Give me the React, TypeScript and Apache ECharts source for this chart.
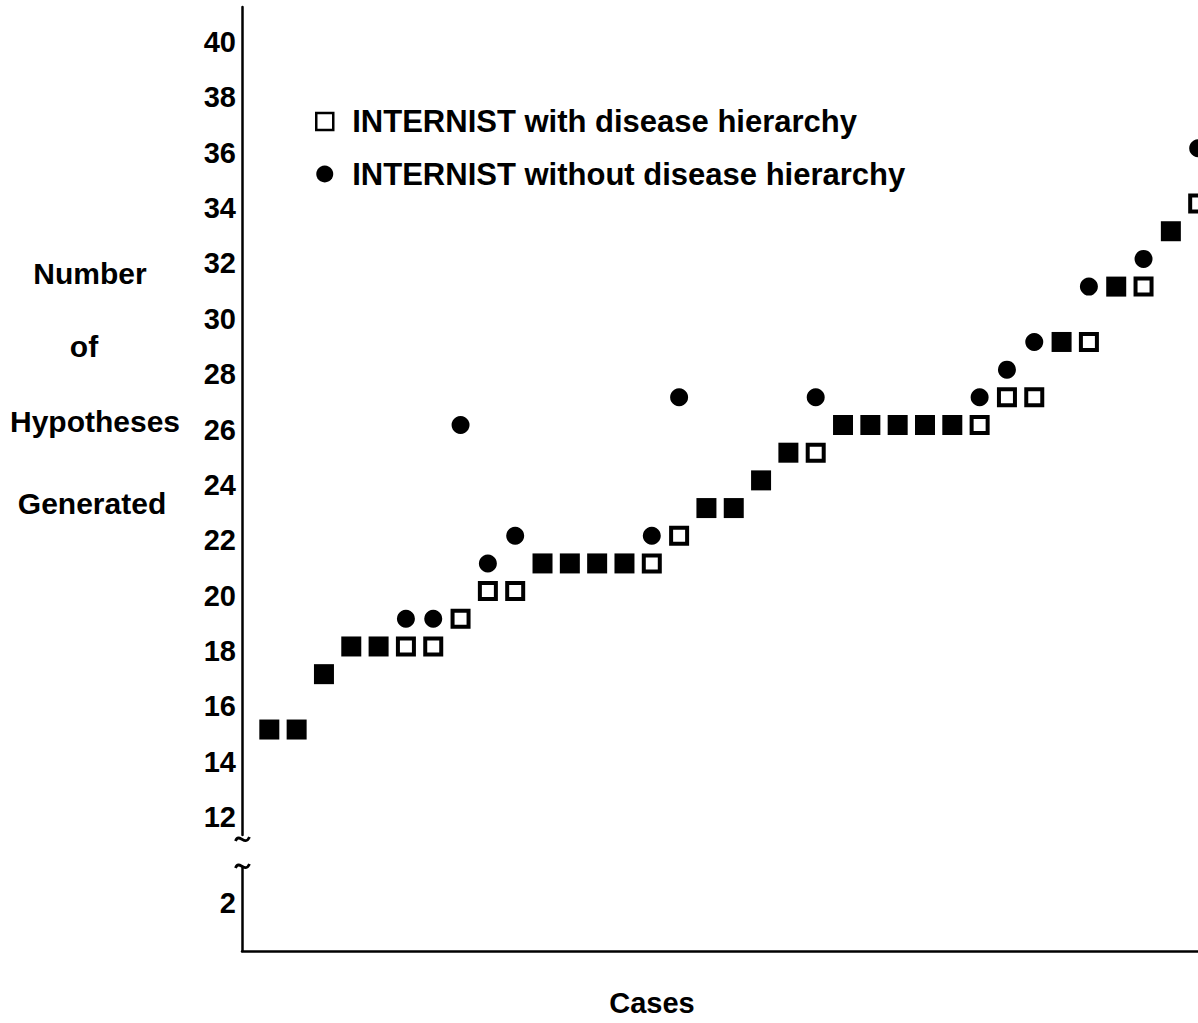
import React, { useEffect, useRef } from "react";
import * as echarts from "echarts";

// ---- data ----
const caseNumbers = [
  1, 2, 3, 4, 5, 6, 7, 8, 9, 10, 11, 12, 13, 14, 15, 16, 17, 18, 19, 20,
  21, 22, 23, 24, 25, 26, 27, 28, 29, 30, 31, 32, 33, 34, 35,
];
const withHierarchy = [
  15, 15, 17, 18, 18, 18, 18, 19, 20, 20, 21, 21, 21, 21, 21, 22, 23, 23, 24, 25,
  25, 26, 26, 26, 26, 26, 26, 27, 27, 29, 29, 31, 31, 33, 34,
];
const withoutHierarchy = [
  15, 15, 17, 18, 18, 19, 19, 26, 21, 22, 21, 21, 21, 21, 22, 27, 23, 23, 24, 25,
  27, 26, 26, 26, 26, 26, 27, 28, 29, 29, 31, 31, 32, 33, 36,
];
const upperTickLabels = [12, 14, 16, 18, 20, 22, 24, 26, 28, 30, 32, 34, 36, 38, 40];
const lowerTickLabels = [2];
const seriesNames = [
  "INTERNIST with disease hierarchy",
  "INTERNIST without disease hierarchy",
];
const yTitleLines = ["Number", "of", "Hypotheses", "Generated"];
const xTitle = "Cases";

const FONT = '"Liberation Sans", Arial, Helvetica, sans-serif';
const INK = "#000";

export default function App() {
  const ref = useRef<HTMLDivElement>(null);

  useEffect(() => {
    if (!ref.current) return;
    const chart = echarts.init(ref.current, undefined, { renderer: "svg" });

    const squareData = caseNumbers.map((c, i) => {
      const both = withHierarchy[i] === withoutHierarchy[i];
      return both
        ? {
            value: [c, withHierarchy[i]],
            symbolSize: 20,
            itemStyle: { color: INK, borderWidth: 0 },
          }
        : { value: [c, withHierarchy[i]] };
    });
    const circleData = caseNumbers
      .map((c, i) => ({ c, w: withHierarchy[i], wo: withoutHierarchy[i] }))
      .filter((d) => d.w !== d.wo)
      .map((d) => [d.c, d.wo]);

    const labelStyle = {
      fontFamily: FONT,
      fontSize: 29,
      fontWeight: "bold" as const,
      color: INK,
      verticalAlign: "top" as const,
      lineHeight: 9,
    };

    const titleX = [90, 84, 95, 92];
    const titleY = [273, 346, 421, 503];

    const textStyle = (size: number) => ({
      fill: INK,
      font: `bold ${size}px ${FONT}`,
      align: "center",
      verticalAlign: "middle",
      textAlign: "center",
      textVerticalAlign: "middle",
    });

    // axis-break squiggle (decorative "~" drawn as a curve)
    const squiggle = (cy: number) => ({
      type: "bezierCurve",
      shape: {
        x1: 235.5,
        y1: cy + 2,
        cpx1: 239,
        cpy1: cy - 7,
        cpx2: 245,
        cpy2: cy + 8,
        x2: 249.5,
        y2: cy - 2,
      },
      style: { stroke: INK, lineWidth: 2.8, fill: null },
    });

    const option: any = {
      animation: false,
      backgroundColor: "#fff",
      grid: [
        { left: 242, top: 7, width: 983.5, height: 828, containLabel: false, outerBoundsMode: "none" },
        { left: 242, top: 867, width: 983.5, height: 84, containLabel: false, outerBoundsMode: "none" },
      ],
      xAxis: [
        {
          type: "value",
          gridIndex: 0,
          min: 0,
          max: 36,
          show: false,
          splitLine: { show: false },
        },
        {
          type: "value",
          gridIndex: 1,
          min: 0,
          max: 36,
          axisLine: { show: true, onZero: false, lineStyle: { color: INK, width: 2.5 } },
          axisTick: { show: false },
          axisLabel: { show: false },
          splitLine: { show: false },
        },
      ],
      yAxis: [
        {
          type: "value",
          gridIndex: 0,
          min: 11.19,
          max: 41.1,
          splitNumber: 15,
          minInterval: 2,
          maxInterval: 2,
          axisLine: { show: true, onZero: false, lineStyle: { color: INK, width: 2.5 } },
          axisTick: { show: false },
          splitLine: { show: false },
          axisLabel: {
            ...labelStyle,
            margin: 6,
            formatter: (v: number) => {
              const r = Math.round(v * 1000) / 1000;
              return upperTickLabels.includes(r) ? String(r) : "";
            },
          },
        },
        {
          type: "value",
          gridIndex: 1,
          min: 0,
          max: 3.17,
          interval: 2,
          axisLine: { show: true, onZero: false, lineStyle: { color: INK, width: 2.5 } },
          axisTick: { show: false },
          splitLine: { show: false },
          axisLabel: {
            ...labelStyle,
            margin: 6,
            formatter: (v: number) => {
              const r = Math.round(v * 1000) / 1000;
              return lowerTickLabels.includes(r) ? String(r) : "";
            },
          },
        },
      ],
      legend: {
        orient: "vertical",
        left: 310,
        top: 101,
        padding: 5,
        itemWidth: 17,
        itemHeight: 17,
        itemGap: 21.5,
        selectedMode: false,
        textStyle: {
          fontFamily: FONT,
          fontSize: 31,
          fontWeight: "bold",
          color: INK,
          lineHeight: 30,
          padding: [0, 0, 0, 14],
        },
        data: [
          {
            name: seriesNames[0],
            icon: "rect",
            itemStyle: { color: "#fff", borderColor: INK, borderWidth: 2.5 },
          },
          {
            name: seriesNames[1],
            icon: "circle",
            itemStyle: { color: INK, borderWidth: 0 },
          },
        ],
      },
      series: [
        {
          type: "scatter",
          name: seriesNames[0],
          xAxisIndex: 0,
          yAxisIndex: 0,
          symbol: "rect",
          symbolSize: 16,
          itemStyle: { color: "#fff", borderColor: INK, borderWidth: 4, opacity: 1 },
          emphasis: { disabled: true },
          data: squareData,
          z: 3,
        },
        {
          type: "scatter",
          name: seriesNames[1],
          xAxisIndex: 0,
          yAxisIndex: 0,
          symbol: "circle",
          symbolSize: 18,
          itemStyle: { color: INK, opacity: 1 },
          emphasis: { disabled: true },
          data: circleData,
          z: 4,
        },
      ],
      graphic: [
        ...yTitleLines.map((t, i) => ({
          type: "text",
          x: titleX[i],
          y: titleY[i],
          style: { text: t, ...textStyle(30) },
        })),
        {
          type: "text",
          x: 652,
          y: 1003,
          style: { text: xTitle, ...textStyle(29) },
        },
        squiggle(839),
        squiggle(866),
      ],
    };

    chart.setOption(option);
    return () => chart.dispose();
  }, []);

  return (
    <div
      ref={ref}
      style={{ position: "fixed", left: 0, top: 0, width: 1198, height: 1023, background: "#fff" }}
    />
  );
}
